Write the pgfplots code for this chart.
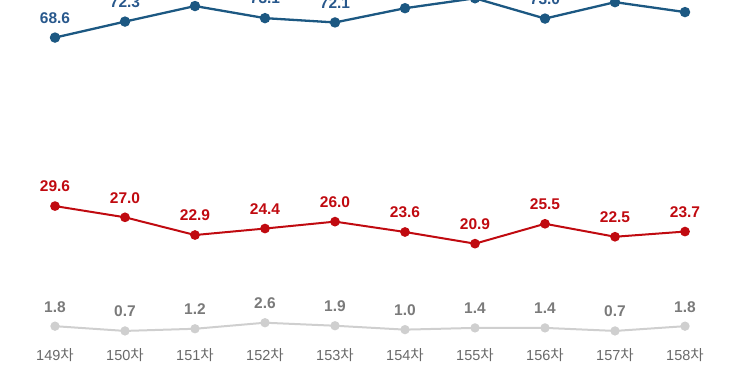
\documentclass[border=0pt]{standalone}
\usepackage{fontspec}
\setmainfont{Liberation Sans}
\newfontfamily\kr{Noto Sans CJK KR}
\usepackage{pgfplots}
\pgfplotsset{compat=1.18}
\definecolor{cblue}{RGB}{28,88,130}
\definecolor{cbluet}{RGB}{40,88,140}
\definecolor{cred}{RGB}{192,10,16}
\definecolor{cgrayl}{RGB}{207,207,207}
\definecolor{cgrayt}{RGB}{122,122,122}
\definecolor{ctick}{RGB}{105,105,105}
\begin{document}
\begin{tikzpicture}
\begin{axis}[
  scale only axis,
  width=739pt, height=340pt,
  xmin=-0.7857, xmax=9.7714,
  ymin=-1.4, ymax=77.3,
  clip=false,
  axis line style={draw=none},
  major tick style={draw=none},
  ytick=\empty,
  xtick={0,...,9},
  xticklabels={149{\kr 차},150{\kr 차},151{\kr 차},152{\kr 차},153{\kr 차},154{\kr 차},155{\kr 차},156{\kr 차},157{\kr 차},158{\kr 차}},
  xticklabel style={font=\fontsize{14.5}{16}\selectfont, text=ctick, anchor=north, inner sep=0pt, yshift=-8pt},
  nodes near coords,
  /pgf/number format/assume math mode=true,
  /pgf/number format/fixed, /pgf/number format/fixed zerofill, /pgf/number format/precision=1,
  nodes near coords style={anchor=south, inner sep=0pt, yshift=13pt, font=\bfseries\fontsize{15.5}{18}\selectfont},
]
\addplot[cblue, line width=2.3pt, mark=*, mark size=4pt, mark options={fill=cblue, draw=cblue},
  nodes near coords style={text=cbluet}] coordinates {
(0,68.6) (1,72.3) (2,75.9) (3,73.1) (4,72.1) (5,75.4) (6,77.7) (7,73.0) (8,76.8) (9,74.5)};
\addplot[cred, line width=2pt, mark=*, mark size=3.8pt, mark options={fill=cred, draw=cred},
  nodes near coords style={text=cred}] coordinates {
(0,29.6) (1,27.0) (2,22.9) (3,24.4) (4,26.0) (5,23.6) (6,20.9) (7,25.5) (8,22.5) (9,23.7)};
\addplot[cgrayl, line width=2pt, mark=*, mark size=3.6pt, mark options={fill=cgrayl, draw=cgrayl},
  nodes near coords style={text=cgrayt}] coordinates {
(0,1.8) (1,0.7) (2,1.2) (3,2.6) (4,1.9) (5,1.0) (6,1.4) (7,1.4) (8,0.7) (9,1.8)};
\end{axis}
\pgfresetboundingbox
\path[use as bounding box] (current axis.north west) rectangle ([yshift=-29pt]current axis.south east);
\end{tikzpicture}
\end{document}
